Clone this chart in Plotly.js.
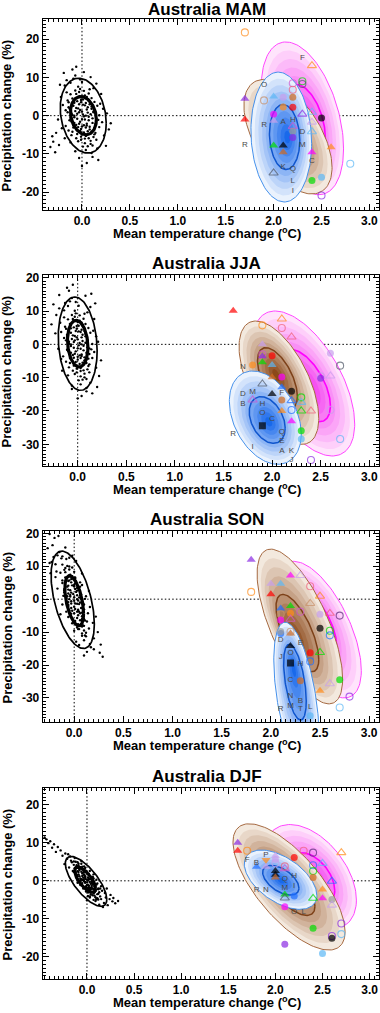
<!DOCTYPE html>
<html><head><meta charset="utf-8">
<script src="https://cdn.plot.ly/plotly-3.0.1.min.js"></script>
<style>html,body{margin:0;padding:0;background:#fff}#chart{width:380px;height:1013px}</style>
</head><body><div id="chart"></div>
<script>
// ---------------- DATA ----------------
const SEASONS = ['MAM','JJA','SON','DJF'];
const X_TICKS = [0,0.5,1,1.5,2,2.5,3];
const X_TICK_LABELS = ['0.0','0.5','1.0','1.5','2.0','2.5','3.0'];
const Y_TICKS_MAM = [-20,-10,0,10,20];
const Y_TICKS_JJA = [-30,-20,-10,0,10,20];
const Y_TICKS_SON = [-30,-20,-10,0,10,20];
const Y_TICKS_DJF = [-20,-10,0,10,20];

// internal-variability samples (temperature change, precipitation change)
const MAM_cloud = [[-0.02,1.5],[0.05,-2.1],[-0.08,3.4],[0.10,-4.2],[0.01,0.3],[-0.12,5.6],[0.07,-1.2],[-0.05,-0.8],[0.15,-6.3],[-0.18,7.9],
[0.03,2.7],[-0.01,-3.5],[0.12,1.1],[-0.09,-2.6],[0.06,4.4],[-0.15,0.9],[0.18,-3.0],[-0.03,6.2],[0.09,-7.4],[-0.11,-5.1],
[0.00,8.8],[0.04,-9.0],[-0.06,2.0],[0.13,3.6],[-0.20,2.8],[0.21,-1.7],[-0.14,-3.9],[0.08,6.9],[-0.04,-6.7],[0.02,-0.2],
[-0.07,10.5],[0.11,-10.8],[-0.16,9.3],[0.16,-8.6],[-0.22,4.9],[0.23,-5.2],[-0.25,-1.0],[0.26,0.6],[-0.10,12.1],[0.05,-12.4],
[-0.01,4.1],[0.06,0.8],[-0.05,-4.8],[0.10,2.4],[-0.13,1.9],[0.14,-2.2],[-0.02,-1.6],[0.03,5.3],[-0.08,-0.4],[0.07,-5.9],
[-0.17,-2.7],[0.19,3.1],[-0.04,7.6],[0.01,-8.1],[-0.12,-7.0],[0.12,7.2],[-0.27,-4.5],[-0.30,-6.8],[-0.33,-8.2],[-0.28,-9.6],
[-0.24,-7.7],[-0.31,-5.4],[0.28,-3.6],[0.25,-7.9],[0.30,-2.0],[-0.19,11.2],[0.09,10.1],[-0.06,12.8],[0.02,11.4],[0.00,-13.2],
[-0.03,-11.1],[0.17,-11.6],[0.20,5.7],[-0.21,-3.3],[0.15,8.4],[-0.09,9.7],[0.04,-3.1],[-0.03,3.0],[0.08,-2.9],[-0.07,-9.3],
[0.11,-0.7],[-0.14,3.5],[0.05,1.6],[-0.01,-5.5],[0.13,-4.9],[-0.10,0.2],[0.02,6.5],[-0.16,6.1],[0.18,0.1],[0.06,-8.0],
[-0.23,8.1],[0.22,1.8],[-0.05,0.5],[0.00,-2.8],[0.07,3.9],[-0.11,-1.5],[0.03,-6.0],[-0.02,9.5],[0.10,-9.8],[-0.18,-5.9],
[-0.06,-2.4],[0.04,3.3],[-0.10,4.5],[0.08,-3.6],[0.02,-4.4],[-0.03,0.9],[0.11,-1.9],[-0.07,1.2],[0.06,2.2],[-0.12,-0.6],
[0.00,5.0],[0.03,-1.0],[-0.04,-3.0],[0.09,0.4],[-0.09,2.6],[0.13,-3.2],[-0.01,-6.3],[0.05,4.9],[-0.08,-1.9],[0.01,2.9],
[-0.14,2.2],[0.12,-5.6],[-0.02,-4.0],[0.07,-0.3],[-0.05,3.8],[0.10,1.8],[-0.11,0.6],[0.04,-5.3],[-0.06,5.7],[0.15,-0.9],
[0.00,1.1],[-0.03,-2.1],[0.08,3.0],[-0.09,-3.1],[0.02,-2.5],[-0.15,4.0],[0.14,-4.5],[-0.04,1.9],[0.06,-4.1],[0.01,4.2],
[-0.07,6.6],[0.09,-6.6],[-0.13,-1.2],[0.12,0.9],[-0.02,7.0],[0.03,-7.2],[-0.10,-4.2],[0.07,5.8],[0.05,-2.6],[-0.01,3.5],
[-0.17,1.4],[0.17,-1.1],[-0.06,-5.9],[0.10,4.6],[0.00,-0.9],[-0.08,0.0],[0.04,0.0],[0.11,-7.8],[-0.12,8.6],[0.16,2.6]];
const JJA_cloud = [[-0.01,2.1],[0.04,-3.0],[-0.07,4.8],[0.09,-5.6],[0.02,0.4],[-0.10,7.5],[0.06,-1.8],[-0.04,-1.0],[0.12,-8.4],[-0.14,10.2],
[0.03,3.7],[0.00,-4.6],[0.10,1.3],[-0.08,-3.5],[0.05,6.0],[-0.12,1.2],[0.15,-4.1],[-0.03,8.3],[0.07,-9.9],[-0.09,-6.9],
[0.01,11.6],[0.03,-12.0],[-0.05,2.7],[0.11,4.9],[-0.17,3.7],[0.17,-2.3],[-0.12,-5.2],[0.07,9.2],[-0.03,-8.9],[0.01,-0.3],
[-0.06,13.9],[0.09,-14.1],[-0.13,12.4],[0.13,-11.5],[-0.18,6.5],[0.19,-7.0],[-0.20,-1.3],[0.21,0.8],[-0.09,16.1],[0.04,-15.5],
[-0.01,5.5],[0.05,1.0],[-0.04,-6.4],[0.08,3.2],[-0.11,2.5],[0.12,-2.9],[-0.02,-2.1],[0.02,7.1],[-0.07,-0.5],[0.06,-7.8],
[-0.15,-3.6],[0.16,4.1],[-0.03,10.1],[0.01,-10.8],[-0.10,-9.3],[0.10,9.6],[-0.22,8.8],[-0.25,12.0],[-0.19,14.8],[-0.23,3.3],
[0.22,-9.5],[0.20,-12.8],[0.24,-4.8],[0.18,12.3],[0.14,15.2],[-0.05,17.9],[-0.11,17.0],[0.08,14.6],[0.00,-16.2],[-0.06,-13.4],
[0.15,-14.7],[0.17,7.6],[-0.17,-4.4],[0.13,11.2],[-0.08,12.9],[0.03,-4.1],[-0.02,4.0],[0.07,-3.9],[-0.06,-12.4],[0.10,-0.9],
[-0.12,4.7],[0.04,2.1],[-0.01,-7.3],[0.11,-6.5],[-0.09,0.3],[0.02,8.7],[-0.14,8.1],[0.15,0.1],[0.05,-10.6],[-0.19,10.8],
[0.19,2.4],[-0.04,0.7],[0.00,-3.7],[0.06,5.2],[-0.10,-2.0],[0.03,-8.0],[-0.02,12.7],[0.09,-13.1],[-0.16,-7.9],[-0.27,6.0],
[-0.05,-3.2],[0.04,4.4],[-0.08,6.1],[0.07,-4.8],[0.02,-5.9],[-0.03,1.2],[0.09,-2.5],[-0.06,1.6],[0.05,2.9],[-0.10,-0.8],
[0.00,6.7],[0.03,-1.3],[-0.04,-4.0],[0.08,0.5],[-0.07,3.5],[0.11,-4.3],[-0.01,-8.4],[0.04,6.5],[-0.07,-2.5],[0.01,3.9],
[-0.11,2.9],[0.10,-7.5],[-0.02,-5.3],[0.06,-0.4],[-0.04,5.1],[0.08,2.4],[-0.09,0.8],[0.03,-7.1],[-0.05,7.6],[0.12,-1.2],
[0.00,1.5],[-0.03,-2.8],[0.07,4.0],[-0.08,-4.1],[0.02,-3.3],[-0.13,5.3],[0.12,-6.0],[-0.03,2.5],[0.05,-5.5],[0.01,5.6],
[-0.06,8.8],[0.07,-8.8],[-0.11,-1.6],[0.10,1.2],[-0.02,9.3],[0.03,-9.6],[-0.08,-5.6],[0.06,7.7],[0.04,-3.5],[-0.01,4.7],
[-0.14,1.9],[0.14,-1.5],[-0.05,-7.9],[0.08,6.1],[0.00,-1.2],[-0.07,0.0],[0.04,0.0],[0.09,-10.4],[-0.10,11.5],[0.13,3.5]];
const SON_cloud = [[-0.03,2.0],[0.04,-3.2],[-0.09,5.1],[0.10,-6.0],[0.00,0.6],[-0.14,8.0],[0.05,-1.5],[-0.03,-1.3],[0.15,-8.9],[-0.19,10.6],
[0.00,3.9],[0.04,-4.9],[0.07,1.5],[-0.05,-3.4],[0.01,6.3],[-0.11,1.0],[0.14,-4.3],[-0.10,8.9],[0.12,-10.2],[-0.02,-7.3],
[-0.08,12.2],[0.10,-12.5],[-0.06,2.9],[0.06,5.1],[-0.17,3.2],[0.16,-2.4],[-0.06,-5.4],[-0.02,9.6],[0.04,-9.1],[0.00,-0.5],
[-0.15,14.3],[0.17,-14.6],[-0.21,12.8],[0.20,-11.9],[-0.19,6.7],[0.19,-7.2],[-0.12,-1.6],[0.12,0.9],[-0.22,16.4],[0.13,-16.0],
[-0.05,5.7],[0.03,1.2],[0.01,-6.6],[0.03,3.4],[-0.10,2.7],[0.10,-3.1],[0.00,-2.3],[-0.04,7.4],[-0.03,-0.6],[0.09,-8.0],
[-0.08,-3.8],[0.08,4.3],[-0.12,10.5],[0.08,-11.1],[0.00,-9.6],[-0.05,9.9],[-0.25,11.0],[-0.27,15.5],[-0.20,18.6],[-0.24,7.9],
[0.24,-10.0],[0.27,-13.8],[0.22,-5.3],[-0.05,12.6],[-0.09,15.7],[-0.16,19.2],[-0.25,19.8],[-0.02,13.2],[0.10,-17.1],[0.05,-13.9],
[0.20,-15.2],[0.08,7.8],[-0.14,-4.6],[0.02,11.6],[-0.17,13.3],[0.06,-4.3],[-0.06,4.1],[0.08,-4.1],[0.02,-12.9],[0.06,-1.0],
[-0.12,4.9],[0.02,2.2],[0.04,-7.6],[0.13,-6.8],[-0.08,0.3],[-0.05,9.0],[-0.18,8.4],[0.11,0.1],[0.11,-11.0],[-0.23,11.3],
[0.15,2.5],[-0.04,0.8],[0.03,-3.8],[0.01,5.4],[-0.06,-2.1],[0.08,-8.3],[-0.12,13.0],[0.16,-13.6],[0.26,-16.3],[0.29,-17.5],
[-0.02,-3.5],[0.01,4.8],[-0.09,6.6],[0.08,-5.2],[0.06,-6.4],[-0.04,1.3],[0.07,-2.7],[-0.06,1.7],[0.01,3.1],[-0.06,-0.9],
[-0.05,7.3],[0.03,-1.4],[0.00,-4.3],[0.05,0.5],[-0.07,3.8],[0.09,-4.7],[0.05,-9.1],[-0.02,7.0],[-0.03,-2.7],[-0.02,4.2],
[-0.10,3.1],[0.10,-8.1],[0.03,-5.7],[0.04,-0.4],[-0.06,5.5],[0.03,2.6],[-0.07,0.9],[0.07,-7.7],[-0.09,8.2],[0.08,-1.3],
[-0.01,1.6],[0.01,-3.0],[0.00,4.3],[-0.03,-4.4],[0.04,-3.6],[-0.12,5.7],[0.11,-6.5],[-0.04,2.7],[0.08,-6.0],[-0.03,6.1],
[-0.09,9.5],[0.10,-9.5],[-0.06,-1.7],[0.06,1.3],[-0.07,10.1],[0.08,-10.4],[-0.02,-6.1],[0.00,8.3],[0.05,-3.8],[-0.03,5.1],
[-0.10,2.1],[0.10,-1.6],[0.03,-8.6],[0.01,6.6],[0.01,-1.3],[-0.05,0.0],[0.03,0.0],[0.12,-11.3],[-0.13,12.4],[0.06,3.8]];
const DJF_cloud = [[-0.02,1.2],[0.05,-1.6],[-0.08,2.9],[0.09,-2.7],[0.01,0.1],[-0.12,3.6],[0.06,-0.8],[-0.04,0.2],[0.14,-4.1],[-0.16,4.9],
[0.02,1.8],[0.00,-1.9],[0.08,-0.9],[-0.07,0.0],[0.03,2.6],[-0.11,1.6],[0.12,-2.2],[-0.09,4.0],[0.11,-4.6],[-0.01,-2.8],
[-0.06,5.2],[0.07,-5.0],[-0.05,1.3],[0.06,1.0],[-0.15,2.6],[0.15,-1.4],[-0.04,-2.0],[-0.03,3.8],[0.04,-3.6],[0.00,-0.4],
[-0.18,6.4],[0.18,-5.8],[-0.21,5.8],[0.20,-4.4],[-0.19,3.5],[0.19,-3.2],[-0.10,-0.5],[0.10,0.3],[-0.23,7.2],[0.13,-6.3],
[-0.04,2.2],[0.03,0.4],[0.02,-3.0],[0.05,0.9],[-0.09,1.7],[0.09,-1.5],[0.00,-1.1],[-0.05,3.1],[-0.02,-0.3],[0.08,-3.9],
[-0.07,-1.1],[0.07,1.7],[-0.12,5.0],[0.09,-5.3],[0.01,-4.0],[-0.06,4.5],[-0.28,8.0],[-0.31,8.9],[-0.35,9.6],[-0.39,10.4],
[-0.43,10.9],[-0.45,11.4],[-0.33,7.6],[-0.26,6.6],[-0.37,8.7],[-0.41,9.9],[0.24,-4.8],[0.27,-5.4],[0.30,-5.9],[0.33,-5.3],
[0.22,-6.4],[0.25,-3.7],[0.28,-4.5],[0.16,-2.6],[-0.14,4.2],[0.04,-2.2],[-0.03,1.6],[0.06,-2.0],[0.00,-5.1],[0.05,-0.5],
[-0.10,2.5],[0.01,0.9],[0.03,-4.4],[0.12,-3.4],[-0.07,0.6],[-0.05,3.7],[-0.17,5.3],[0.11,-0.7],[0.10,-4.9],[-0.20,7.0],
[0.15,-4.8],[-0.02,0.5],[0.02,-1.3],[-0.01,2.6],[-0.08,-0.1],[0.07,-3.3],[-0.13,6.0],[0.17,-6.9],[-0.24,4.4],[0.21,-2.0],
[-0.05,0.2],[0.04,-1.9],[-0.08,2.9],[0.07,-0.9],[0.02,-2.1],[-0.03,1.6],[0.09,-2.6],[-0.06,0.4],[0.05,-0.2],[-0.10,1.3],
[-0.07,3.6],[0.03,-0.3],[-0.01,-1.4],[0.08,-1.4],[-0.09,2.3],[0.11,-3.5],[0.06,-3.8],[-0.04,2.9],[-0.02,-0.5],[0.00,2.0],
[-0.12,2.2],[0.12,-2.0],[0.04,-3.1],[0.02,0.5],[-0.06,2.4],[0.06,0.0],[-0.05,-0.6],[0.08,-3.0],[-0.11,4.1],[0.10,-1.0],
[-0.02,1.0],[0.01,-1.0],[-0.03,2.4],[0.03,-2.4],[0.05,-1.2],[-0.13,3.3],[0.13,-3.0],[-0.05,1.9],[0.07,-2.2],[-0.04,0.8],
[-0.09,4.5],[0.09,-4.3],[-0.07,-0.2],[0.06,1.0],[-0.10,4.9],[0.10,-4.7],[0.01,-3.0],[-0.06,3.4],[0.04,-0.8],[-0.03,-0.1],
[-0.14,2.4],[0.14,-2.0],[0.03,-4.1],[-0.02,3.4],[0.00,0.3],[-0.08,1.2],[0.02,-1.7],[0.12,-4.9],[-0.14,5.1],[0.07,0.6]];

// model projections: [temperature change, precipitation change, model style code]
const MAM_models = [[1.7,21.8,'oO'],[2.4,13.1,'oU'],[2.2,8.5,'hO'],[2.2,6.8,'nO'],[2.3,9.0,'gO'],[2.3,8.3,'dO'],[1.9,4.0,'tO'],
[1.7,4.4,'pT'],[2.0,5.0,'sT'],[2.1,4.8,'lF'],[2.2,4.8,'cF'],[2.1,2.3,'oF'],[2.2,2.2,'rF'],[2.3,0.4,'pU'],
[2.4,0.9,'sU'],[2.5,-0.6,'kF'],[1.7,-1.0,'rT'],[2.0,0.4,'mF'],[2.0,-1.3,'lT'],[2.2,-2.8,'hU'],[2.4,-1.7,'lU'],
[2.2,-4.1,'yF'],[2.2,-5.7,'pF'],[2.4,-4.2,'sU'],[2.0,-7.8,'gT'],[2.1,-7.8,'kT'],[2.1,-9.6,'cT'],[2.4,-9.6,'mT'],
[2.6,-8.3,'oT'],[2.8,-12.6,'sO'],[2.0,-15.0,'dU'],[2.4,-17.0,'gF'],[2.5,-16.1,'sF'],[2.5,-20.9,'pO']];
const JJA_models = [[1.6,10.1,'rT'],[2.1,7.6,'oU'],[1.9,5.7,'oO'],[2.1,4.9,'nO'],[2.2,2.2,'nU'],
[1.9,0.0,'lT'],[1.9,-3.0,'hO'],[1.9,-3.6,'pT'],[2.0,-3.4,'rF'],[1.9,-5.4,'gT'],[2.0,-6.2,'sT'],[1.8,-6.2,'oF'],
[2.0,-9.9,'cT'],[2.1,-9.8,'mF'],[2.6,-2.7,'lF'],[2.7,-6.4,'dO'],[2.5,-9.6,'lO'],[2.5,-10.2,'pF'],[2.6,-9.5,'lU'],
[1.9,-11.9,'dU'],[2.1,-12.9,'bT'],[2.2,-14.1,'kF'],[1.8,-16.7,'hU'],[2.0,-14.9,'kT'],[2.1,-16.7,'cF'],[2.2,-16.9,'bU'],
[2.3,-15.9,'gO'],[2.3,-17.4,'sU'],[2.2,-19.7,'bO'],[2.3,-20.0,'gU'],[2.4,-20.0,'nU'],[2.1,-20.0,'oT'],[1.9,-24.4,'kS'],[2.2,-23.1,'mT'],
[2.3,-25.9,'gF'],[2.3,-28.4,'sF'],[2.7,-28.4,'sO'],[2.6,-19.7,'lO'],[2.4,-34.7,'pO']];
const SON_models = [[1.8,12.0,'pT'],[1.8,2.2,'oO'],[2.0,4.7,'lT'],[2.1,4.7,'sT'],[2.2,7.2,'mT'],[2.3,7.2,'lU'],[2.0,1.5,'rT'],[2.4,3.9,'nO'],
[2.5,0.9,'oU'],[2.4,-1.3,'tU'],[2.1,-2.8,'bT'],[2.2,-2.1,'gT'],[2.2,-4.3,'oF'],[2.1,-4.6,'tO'],[2.3,-3.8,'hO'],
[2.6,-4.3,'nU'],[2.5,-4.6,'lF'],[2.7,-5.0,'vO'],[2.1,-6.3,'mF'],[2.2,-6.1,'hU'],[2.5,-8.8,'kF'],
[2.6,-9.6,'gO'],[2.6,-11.0,'bO'],[2.1,-10.4,'bF'],[2.1,-9.8,'yF'],[2.2,-10.4,'cT'],[2.2,-9.9,'tO'],[2.2,-14.2,'kT'],
[2.4,-16.3,'rF'],[2.5,-16.2,'gU'],[2.4,-18.9,'bO'],[2.2,-19.4,'kS'],[2.3,-24.8,'cF'],[2.7,-24.5,'gF'],[2.6,-25.7,'lU'],
[2.5,-27.8,'oT'],[2.8,-29.6,'pO'],[2.7,-32.9,'sO'],[2.4,-35.4,'sF']];
const DJF_models = [[1.6,10.0,'pT'],[1.6,7.9,'rT'],[1.7,7.9,'oO'],[1.8,3.7,'bT'],[1.9,5.5,'oV'],[1.9,3.7,'lT'],[2.0,5.6,'lF'],[2.0,6.6,'lT'],
[2.0,4.6,'lO'],[2.1,3.2,'hU'],[2.1,3.8,'nO'],[2.2,6.1,'rF'],[2.3,7.9,'nO'],[2.4,7.4,'vO'],[2.7,7.4,'oU'],[2.4,4.1,'bO'],
[2.5,4.6,'sU'],[2.4,2.6,'gO'],[2.4,0.9,'cF'],[2.6,-0.1,'bU'],[2.0,2.6,'kT'],[2.0,1.6,'kT'],[2.0,0.9,'cT'],
[2.1,-3.6,'gT'],[2.1,-4.5,'dU'],[2.2,-4.0,'bF'],[2.5,-2.3,'oT'],[2.4,-4.6,'gU'],[2.5,-4.6,'mT'],[2.6,-4.9,'yF'],
[2.6,-6.4,'lU'],[2.1,-6.8,'mF'],[2.7,-11.2,'pO'],[2.4,-12.5,'gF'],[2.7,-14.0,'sO'],[2.6,-14.5,'pO'],[2.6,-15.1,'kF'],
[2.1,-16.7,'pF'],[2.5,-19.1,'sF']];

// letter-labelled members: [temperature change, precipitation change, label]
const MAM_letters = [[2.3,15.1,'F'],[1.9,7.9,'O'],[1.9,-2.4,'R'],[2.1,-1.7,'A'],[2.2,-1.2,'H'],[2.3,-4.4,'D'],[2.3,-7.8,'M'],
[1.7,-7.8,'R'],[2.4,-11.9,'C'],[2.1,-13.5,'K'],[2.2,-13.9,'Q'],[2.2,-17.2,'L'],[2.2,-19.8,'I']];
const JJA_letters = [[1.7,-6.9,'N'],[1.8,-14.4,'M'],[2.1,-14.7,'F'],[1.7,-15.0,'D'],[1.7,-17.9,'B'],[1.9,-17.9,'H'],[1.9,-20.6,'O'],
[2.0,-22.4,'C'],[2.1,-26.2,'Q'],[2.1,-28.9,'E'],[1.6,-26.9,'R'],[1.8,-30.9,'I'],[2.1,-31.9,'A'],[2.2,-32.0,'K'],[2.2,-34.6,'J']];
const SON_letters = [[2.1,-12.5,'D'],[2.3,-13.2,'E'],[2.2,-16.4,'O'],[2.1,-17.6,'J'],[2.3,-19.7,'H'],[2.2,-24.5,'C'],[2.2,-29.4,'N'],
[2.3,-30.9,'B'],[2.2,-32.4,'M'],[2.3,-33.5,'T'],[2.1,-33.5,'R'],[2.4,-32.9,'L']];
const DJF_letters = [[1.7,5.4,'F'],[1.8,4.7,'B'],[1.9,6.7,'P'],[2.1,0.6,'Q'],[2.2,1.2,'H'],[2.2,-1.4,'I'],[2.1,-2.0,'M'],
[1.8,-2.3,'R'],[1.9,-2.5,'N'],[2.2,-8.1,'O'],[2.3,-8.1,'L']];

// distribution ellipses: [centre T, centre P, sd T, sd P, correlation, mode T, mode P]
const MAM_magenta = [2.30,-0.7,0.43,20.0,-0.40,2.35,-3.0];
const MAM_brown   = [2.15,-5.5,0.46,15.0,-0.54,2.15,-5.0];
const MAM_blue    = [2.08,-5.6,0.317,17.0,-0.10,2.15,-5.6];
const JJA_magenta = [2.325,-11.75,0.525,21.75,-0.56,2.35,-13.0];
const JJA_brown   = [2.07,-11.5,0.41,18.5,-0.58,2.04,-9.0];
const JJA_blue    = [1.93,-22.0,0.37,14.0,-0.35,1.97,-23.4];
const SON_magenta = [2.49,-9.25,0.43,20.75,-0.60,2.42,-7.0];
const SON_brown   = [2.295,-8.3,0.435,23.5,-0.68,2.245,-12.3];
const SON_blue    = [2.26,-30.0,0.23,23.0,-0.50,2.23,-20.4];
const DJF_magenta = [2.37,1.0,0.49,13.8,-0.44,2.40,0.0];
const DJF_brown   = [2.145,-1.6,0.595,16.6,-0.71,2.10,0.0];
const DJF_blue    = [2.055,0.3,0.385,7.8,-0.53,2.06,0.0];
// internal variability contours: [centre T, centre P, sd T, sd P, correlation]
const MAM_var_outer = [0.013,0.0,0.24,9.8,-0.2];   const MAM_var_inner = [0.015,0.0,0.135,5.0,-0.2];
const JJA_var_outer = [0.0,0.2,0.2,14.0,-0.15];    const JJA_var_inner = [0.0,0.2,0.105,7.0,-0.15];
const SON_var_outer = [-0.015,-0.2,0.22,14.8,-0.5]; const SON_var_inner = [0.0,-0.5,0.095,7.6,-0.5];
const DJF_var_outer = [-0.01,-0.15,0.22,6.55,-0.72]; const DJF_var_inner = [-0.02,0.3,0.11,3.3,-0.7];

// ---------------- STYLE ----------------
const FONT = 'Liberation Sans, Arial, Helvetica, sans-serif';
const COLORS = {r:'#ff0000',o:'#ff8c1a',b:'#1f6fff',s:'#5cb8f5',g:'#00dd00',m:'#ff00ff',p:'#8a2be2',l:'#c8a0ec',
  c:'#d2691e',k:'#000000',y:'#9a9a9a',d:'#505868',n:'#f0607a',h:'#d055d0',t:'#c8906a',v:'#5a2a7a'};
const SHAPES = {F:'circle',O:'circle-open',T:'triangle-up',U:'triangle-up-open',S:'square',V:'triangle-down'};
const SIZES = {F:7,O:7,T:8,U:8,S:7,V:8};
const GRAD = {
  magenta:{outer:[255,228,252],inner:[242,40,238],edge:'rgb(255,70,255)',contour:'rgb(255,0,255)',cw:1.6},
  brown:{outer:[243,233,222],inner:[140,72,25],edge:'rgb(165,105,65)',contour:'rgb(125,65,25)',cw:1.5},
  blue:{outer:[234,242,253],inner:[25,105,235],edge:'rgb(70,145,235)',contour:'rgb(15,85,205)',cw:1.5}
};

const panels = [
  {title:'Australia MAM', xr:[-0.41,3.1], yr:[-24.7,25.3], dom:[0.7927,0.9812], yt:Y_TICKS_MAM,
   cloud:MAM_cloud, models:MAM_models, letters:MAM_letters, ell:{magenta:MAM_magenta,brown:MAM_brown,blue:MAM_blue}, vo:MAM_var_outer, vi:MAM_var_inner},
  {title:'Australia JJA', xr:[-0.36,3.1], yr:[-36.5,20.8], dom:[0.5400,0.7285], yt:Y_TICKS_JJA,
   cloud:JJA_cloud, models:JJA_models, letters:JJA_letters, ell:{magenta:JJA_magenta,brown:JJA_brown,blue:JJA_blue}, vo:JJA_var_outer, vi:JJA_var_inner},
  {title:'Australia SON', xr:[-0.32,3.1], yr:[-37.3,20.7], dom:[0.2873,0.4758], yt:Y_TICKS_SON,
   cloud:SON_cloud, models:SON_models, letters:SON_letters, ell:{magenta:SON_magenta,brown:SON_brown,blue:SON_blue}, vo:SON_var_outer, vi:SON_var_inner},
  {title:'Australia DJF', xr:[-0.47,3.1], yr:[-25.8,24.4], dom:[0.0336,0.2221], yt:Y_TICKS_DJF,
   cloud:DJF_cloud, models:DJF_models, letters:DJF_letters, ell:{magenta:DJF_magenta,brown:DJF_brown,blue:DJF_blue}, vo:DJF_var_outer, vi:DJF_var_inner}
];

function ellPts(cx,cy,sx,sy,rho,k){
  const n=140, q=Math.sqrt(1-rho*rho), xs=[], ys=[];
  for(let i=0;i<=n;i++){const t=2*Math.PI*i/n, c=Math.cos(t), s=Math.sin(t);
    xs.push(cx+k*sx*c); ys.push(cy+k*sy*(rho*c+q*s));}
  return {xs,ys};
}

const traces=[], shapes=[], annotations=[], layout={
  width:380, height:1013, margin:{l:0,r:0,t:0,b:0}, paper_bgcolor:'#fff', plot_bgcolor:'#fff', showlegend:false
};

panels.forEach((P,pi)=>{
  const sfx = pi?String(pi+1):'';
  const xa='x'+sfx, ya='y'+sfx;
  ['magenta','brown','blue'].forEach(key=>{
    const [cx,cy,sx,sy,rho,mx,my]=P.ell[key], g=GRAD[key];
    for(let i=0;i<10;i++){
      const k=1-i*0.1, t=i/9;
      const col='rgb('+g.outer.map((o,j)=>Math.round(o+(g.inner[j]-o)*t)).join(',')+')';
      const p=ellPts(mx+k*(cx-mx), my+k*(cy-my), sx, sy, rho, k);
      traces.push({type:'scatter',mode:'lines',x:p.xs,y:p.ys,fill:'toself',fillcolor:col,
        line:{width:i===0?1:0,color:g.edge},xaxis:xa,yaxis:ya,hoverinfo:'skip',showlegend:false});
    }
    const kc=0.5, pc=ellPts(mx+kc*(cx-mx), my+kc*(cy-my), sx, sy, rho, kc);
    traces.push({type:'scatter',mode:'lines',x:pc.xs,y:pc.ys,line:{width:g.cw,color:g.contour},xaxis:xa,yaxis:ya,hoverinfo:'skip',showlegend:false});
  });
  // internal variability
  traces.push({type:'scatter',mode:'markers',x:P.cloud.map(d=>d[0]),y:P.cloud.map(d=>d[1]),
    marker:{size:2.4,color:'#000'},xaxis:xa,yaxis:ya,hoverinfo:'skip',showlegend:false});
  [[P.vo,1.7],[P.vi,3.2]].forEach(([e,w])=>{
    const p=ellPts(e[0],e[1],e[2],e[3],e[4],1);
    traces.push({type:'scatter',mode:'lines',x:p.xs,y:p.ys,line:{width:w,color:'#000'},xaxis:xa,yaxis:ya,hoverinfo:'skip',showlegend:false});
  });
  // models
  const M=P.models;
  traces.push({type:'scatter',mode:'markers',x:M.map(d=>d[0]),y:M.map(d=>d[1]),
    marker:{symbol:M.map(d=>SHAPES[d[2][1]]),size:M.map(d=>SIZES[d[2][1]]),color:M.map(d=>COLORS[d[2][0]]),
      line:{width:M.map(d=>(d[2][1]==='O'||d[2][1]==='U')?1.1:0),color:M.map(d=>COLORS[d[2][0]])}},
    xaxis:xa,yaxis:ya,showlegend:false});
  const L=P.letters;
  traces.push({type:'scatter',mode:'text',x:L.map(d=>d[0]),y:L.map(d=>d[1]),text:L.map(d=>d[2]),
    textfont:{family:FONT,size:8,color:'#4a4a4a'},xaxis:xa,yaxis:ya,hoverinfo:'skip',showlegend:false});

  // dotted zero lines
  shapes.push({type:'line',xref:xa,yref:ya+' domain',x0:0,x1:0,y0:0,y1:1,layer:'below',line:{color:'#000',width:1,dash:'1.5px,2.2px'}});
  shapes.push({type:'line',xref:xa+' domain',yref:ya,x0:0,x1:1,y0:0,y1:0,layer:'below',line:{color:'#000',width:1,dash:'1.5px,2.2px'}});

  const tf={family:FONT,size:12,color:'#000',weight:'bold'};
  layout['xaxis'+sfx]={domain:[0.1124,0.9974],range:P.xr,anchor:ya,tickmode:'array',tickvals:X_TICKS,ticktext:X_TICK_LABELS,
    ticks:'inside',ticklen:6,tickwidth:1,tickcolor:'#000',mirror:'allticks',showline:true,linecolor:'#000',linewidth:1,
    showgrid:false,zeroline:false,tickfont:tf,fixedrange:true,
    minor:{tickmode:'linear',tick0:0,dtick:0.05,ticks:'inside',ticklen:3,tickwidth:1,tickcolor:'#000',showgrid:false}};
  layout['yaxis'+sfx]={domain:P.dom,range:P.yr,anchor:xa,tickmode:'array',tickvals:P.yt,ticktext:P.yt.map(String),
    ticks:'inside',ticklen:6,tickwidth:1,tickcolor:'#000',mirror:'allticks',showline:true,linecolor:'#000',linewidth:1,
    showgrid:false,zeroline:false,tickfont:tf,fixedrange:true,
    minor:{tickmode:'linear',tick0:0,dtick:1,ticks:'inside',ticklen:3,tickwidth:1,tickcolor:'#000',showgrid:false}};

  const topPx = (1-P.dom[1])*1013, botPx=(1-P.dom[0])*1013;
  const titleCenter = pi===0 ? 9.6 : topPx-11.5;
  annotations.push({text:P.title,xref:'paper',yref:'paper',x:206.5/380,y:1-titleCenter/1013,xanchor:'center',yanchor:'middle',
    borderpad:0,showarrow:false,font:{family:FONT,size:17,color:'#000',weight:'bold'}});
  annotations.push({text:'Mean temperature change (<sup>o</sup>C)',xref:'paper',yref:'paper',x:207/380,y:1-(botPx+23)/1013,
    xanchor:'center',yanchor:'middle',showarrow:false,font:{family:FONT,size:13,color:'#000',weight:'bold'}});
  annotations.push({text:'Precipitation change (%)',xref:'paper',yref:'paper',x:7/380,y:1-((topPx+botPx)/2+1)/1013,
    xanchor:'center',yanchor:'middle',textangle:-90,showarrow:false,font:{family:FONT,size:13,color:'#000',weight:'bold'}});
});
layout.shapes=shapes; layout.annotations=annotations;
Plotly.newPlot('chart',traces,layout,{staticPlot:true,displayModeBar:false});
</script></body></html>
